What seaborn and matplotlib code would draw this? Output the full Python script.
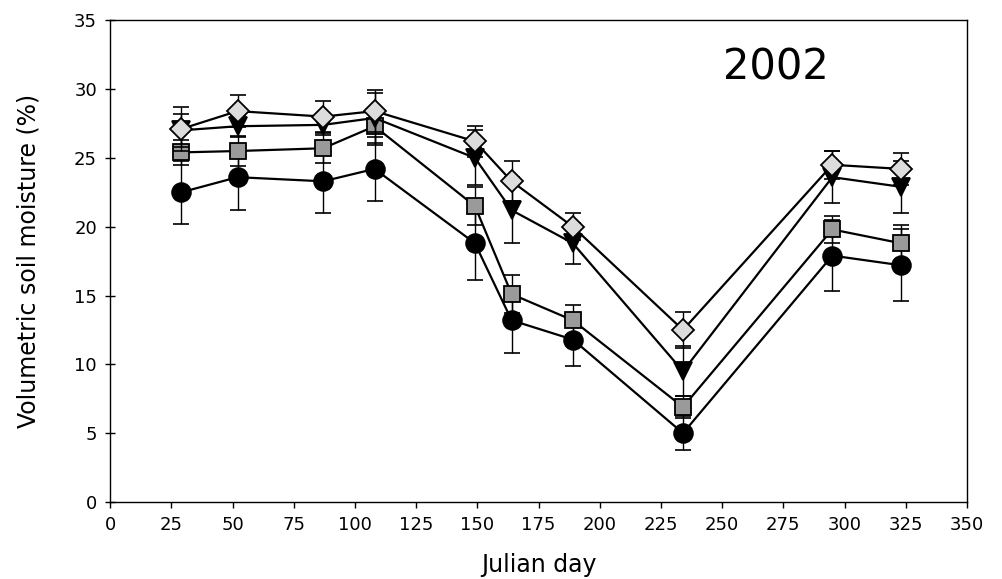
import matplotlib
matplotlib.use("Agg")
import matplotlib.pyplot as plt
import matplotlib.ticker as ticker
import seaborn as sns

# Julian days of sampling
days = [29, 52, 87, 108, 149, 164, 189, 234, 295, 323]

# Soil moisture (%) per treatment, with standard errors
circle_y = [22.5, 23.6, 23.3, 24.2, 18.8, 13.2, 11.8, 5.0, 17.9, 17.2]
circle_err = [2.3, 2.4, 2.3, 2.3, 2.7, 2.4, 1.9, 1.25, 2.6, 2.6]

square_y = [25.4, 25.5, 25.7, 27.3, 21.5, 15.1, 13.2, 6.9, 19.8, 18.8]
square_err = [0.9, 1.1, 1.1, 1.35, 1.4, 1.4, 1.1, 0.8, 1.0, 1.3]

tri_y = [27.0, 27.3, 27.4, 27.9, 25.0, 21.2, 18.8, 9.5, 23.6, 22.9]
tri_err = [1.2, 0.8, 0.7, 1.8, 2.0, 2.4, 1.5, 1.8, 1.9, 1.9]

diam_y = [27.1, 28.4, 28.0, 28.4, 26.2, 23.3, 20.0, 12.5, 24.5, 24.2]
diam_err = [1.6, 1.15, 1.1, 1.5, 1.1, 1.45, 1.0, 1.3, 1.0, 1.15]

x_ticks = list(range(0, 351, 25))
y_ticks = list(range(0, 36, 5))

sns.set_style("white")
plt.rcParams["font.family"] = ["DejaVu Sans"]
for key in ["text.color", "axes.labelcolor", "xtick.color", "ytick.color"]:
    plt.rcParams[key] = "black"

fig = plt.figure(figsize=(10.02, 5.79), dpi=100)
ax = fig.add_axes([0.11, 0.133, 0.855, 0.832])

series = [
    (circle_y, circle_err, "o", "black", 13.5),
    (square_y, square_err, "s", "#9a9a9a", 11),
    (tri_y, tri_err, "v", "black", 13.5),
    (diam_y, diam_err, "D", "#dcdcdc", 11.5),
]

for i, (vals, errs, mk, fc, ms) in enumerate(series):
    ax.errorbar(days, vals, yerr=errs, fmt="none", ecolor="black",
                elinewidth=1.0, capsize=6, capthick=1.2, zorder=2 + 2 * i)
    sns.lineplot(x=days, y=vals, ax=ax, color="black", linewidth=1.6,
                 marker=mk, markersize=ms, markerfacecolor=fc,
                 markeredgecolor="black", markeredgewidth=1.3,
                 zorder=3 + 2 * i)

ax.text(272, 31.6, "2002", fontsize=30, ha="center", va="center")

ax.set_xlim(0, 350)
ax.set_ylim(0, 35)
ax.xaxis.set_major_locator(ticker.FixedLocator(x_ticks))
ax.yaxis.set_major_locator(ticker.FixedLocator(y_ticks))
ax.tick_params(axis="x", direction="out", length=4, width=1, labelsize=13, pad=6)
ax.tick_params(axis="y", direction="inout", length=7, width=1, labelsize=13, pad=6)
ax.tick_params(left=True, bottom=True)
for s in ax.spines.values():
    s.set_color("black")
    s.set_linewidth(1.0)

ax.set_xlabel("Julian day", fontsize=17, labelpad=14)
ax.set_ylabel("Volumetric soil moisture (%)", fontsize=17, labelpad=24)

fig.savefig("out.png", dpi=100)
